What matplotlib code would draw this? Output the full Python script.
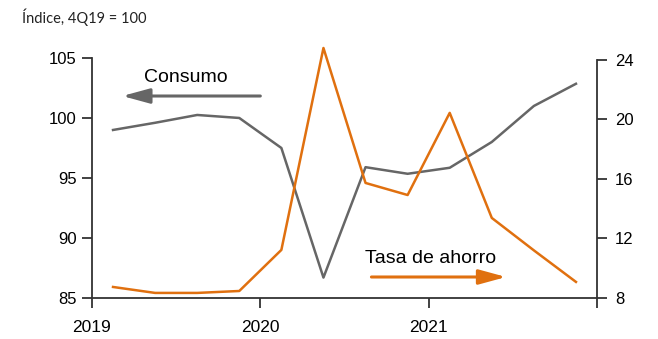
import matplotlib
matplotlib.use("Agg")
import matplotlib.pyplot as plt

# Datos trimestrales (mitad de trimestre), 2019T1 - 2021T4
trimestres = [2019.125, 2019.375, 2019.625, 2019.875,
              2020.125, 2020.375, 2020.625, 2020.875,
              2021.125, 2021.375, 2021.625, 2021.875]
consumo = [99.0, 99.6, 100.25, 100.0,
           97.5, 86.7, 95.9, 95.35,
           95.85, 98.0, 101.0, 102.85]
tasa_ahorro = [8.74, 8.34, 8.34, 8.47,
               11.23, 24.8, 15.73, 14.92,
               20.44, 13.38, 11.2, 9.08]

anios = [2019, 2020, 2021, 2022]
etiquetas_anios = ["2019", "2020", "2021", ""]
ticks_izq = [85, 90, 95, 100, 105]
ticks_der = [8, 12, 16, 20, 24]

GRIS = "#666666"
NARANJA = "#E0700F"
EJE = "#333333"

plt.rcParams["font.family"] = ["Liberation Sans", "DejaVu Sans"]

fig = plt.figure(figsize=(6.58, 3.39), dpi=100)
ax = fig.add_axes([0.1398, 0.121, 0.7675, 0.708])
ax2 = ax.twinx()

ax.plot(trimestres, consumo, color=GRIS, lw=1.8, clip_on=False)
ax2.plot(trimestres, tasa_ahorro, color=NARANJA, lw=1.8, clip_on=False)

ax.set_xlim(2019, 2022)
ax.set_ylim(85, 105)
ax2.set_ylim(8, 24.13)

ax.set_xticks(anios)
ax.set_xticklabels(etiquetas_anios)
ax.set_yticks(ticks_izq)
ax2.set_yticks(ticks_der)

for a in (ax, ax2):
    a.spines["top"].set_visible(False)
    for s in a.spines.values():
        s.set_color(EJE)
        s.set_linewidth(1.3)
    a.tick_params(colors=EJE, width=1.3, length=7, labelsize=12,
                  labelcolor="black")
ax.spines["right"].set_visible(False)
ax2.spines["left"].set_visible(False)
ax2.spines["bottom"].set_visible(False)
ax2.spines["right"].set_bounds(8, 24)
ax.tick_params(axis="x", labelsize=12.5, pad=9)
ax.tick_params(axis="y", pad=4)
ax2.tick_params(axis="y", pad=6)

# Anotaciones
ax.text(2019.56, 103.4, "Consumo", fontsize=14, ha="center", va="center")
ax.annotate("", xy=(2019.18, 101.83), xytext=(2020.0, 101.83),
            arrowprops=dict(arrowstyle="-|>,head_length=1.65,head_width=0.45",
                            color=GRIS, lw=2.2, mutation_scale=10,
                            shrinkA=0, shrinkB=0))
ax2.text(2021.01, 10.62, "Tasa de ahorro", fontsize=14, ha="center", va="center")
ax2.annotate("", xy=(2021.46, 9.41), xytext=(2020.66, 9.41),
             arrowprops=dict(arrowstyle="-|>,head_length=1.65,head_width=0.45",
                             color=NARANJA, lw=2.2, mutation_scale=10,
                             shrinkA=0, shrinkB=0))

fig.text(22 / 658, 1 - 17 / 339, "Índice, 4Q19 = 100", fontsize=10.5,
         family=["Lato", "DejaVu Sans"], ha="left", va="center", color="#222222")

fig.savefig("out.png", dpi=100)
